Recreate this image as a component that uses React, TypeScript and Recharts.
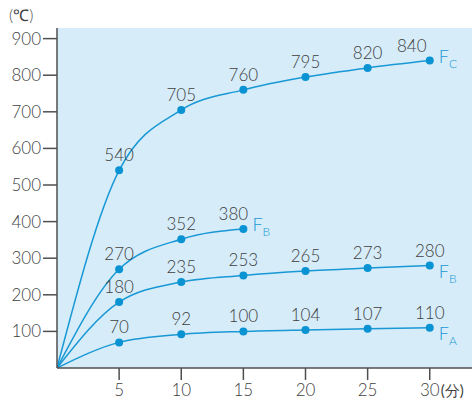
import { LineChart, Line, XAxis, YAxis, CartesianGrid, LabelList } from 'recharts';

const minutes = [0, 5, 10, 15, 20, 25, 30];
const fC = [0, 540, 705, 760, 795, 820, 840];
const fBHigh = [0, 270, 352, 380, null, null, null];
const fBLow = [0, 180, 235, 253, 265, 273, 280];
const fA = [0, 70, 92, 100, 104, 107, 110];

const xTicks = [5, 10, 15, 20, 25, 30];
const yTicks = [100, 200, 300, 400, 500, 600, 700, 800, 900];
const xUnit = '(分)';
const yUnit = '(℃)';

const data = minutes.map((m, i) => ({
  m,
  fC: fC[i],
  fBHigh: fBHigh[i],
  fBLow: fBLow[i],
  fA: fA[i],
}));

const LINE = '#1898d5';
const DOT = '#0a93d3';
const TEXT = '#3f3f3f';
const AXIS = '#4f4f4f';
const FONT = 'Lato, "Open Sans", sans-serif';
const WEIGHT = 300;

const dot = (props: any) => {
  const { cx, cy, index, value } = props;
  if (index === 0 || value == null || cx == null) return <g key={`d${index}`} />;
  return <circle key={`d${index}`} cx={cx} cy={cy} r={4} fill={DOT} />;
};

function makeLabel(name: string, sub: string, last: number, valueDx: number, nameDy: number) {
  return (props: any) => {
    const { x, y, value, index } = props;
    if (index === 0 || value == null) return null;
    const isLast = index === last;
    return (
      <g>
        <text
          x={x + (isLast ? valueDx : 0)}
          y={y - 9}
          textAnchor="middle"
          fontSize={17}
          fontWeight={WEIGHT}
          fill={TEXT}
          fontFamily={FONT}
        >
          {value}
        </text>
        {isLast && (
          <text x={x + 9} y={y + nameDy} fontSize={18} fontWeight={WEIGHT} fill={LINE} fontFamily={FONT}>
            {name}
            <tspan fontSize={12} dy={5}>
              {sub}
            </tspan>
          </text>
        )}
      </g>
    );
  };
}

const XTick = (props: any) => {
  const { x, y, payload } = props;
  const isLast = payload.value === xTicks[xTicks.length - 1];
  return (
    <g>
      <text x={x} y={y} dy={12} textAnchor="middle" fontSize={17} fontWeight={WEIGHT} fill={TEXT} fontFamily={FONT}>
        {payload.value}
      </text>
      {isLast && (
        <text x={x + 11} y={y} dy={12} textAnchor="start" fontSize={15} fill={TEXT} fontFamily={FONT}>
          {xUnit}
        </text>
      )}
    </g>
  );
};

export default function App() {
  return (
    <div style={{ position: 'absolute', left: 0, top: 0, width: 472, height: 399, background: '#fff' }}>
      <div
        style={{
          position: 'absolute',
          left: 9,
          top: 6,
          fontSize: 16,
          lineHeight: '18px',
          color: TEXT,
          fontFamily: FONT,
          fontWeight: WEIGHT,
        }}
      >
        {yUnit}
      </div>
      <LineChart width={472} height={399} data={data} margin={{ top: 28, right: 0, bottom: 0, left: 0 }}>
        <CartesianGrid fill="#d6ecf9" stroke="none" horizontal={false} vertical={false} />
        <XAxis
          dataKey="m"
          type="number"
          domain={[0, 33.4]}
          ticks={xTicks}
          allowDataOverflow
          height={31}
          tickSize={12}
          tickMargin={4}
          axisLine={{ stroke: AXIS, strokeWidth: 1.5 }}
          tickLine={{ stroke: AXIS, strokeWidth: 1.5 }}
          tick={<XTick />}
        />
        <YAxis
          type="number"
          domain={[0, 929]}
          ticks={yTicks}
          allowDataOverflow
          width={57}
          tickSize={14}
          tickMargin={2}
          axisLine={{ stroke: AXIS, strokeWidth: 1.5 }}
          tickLine={{ stroke: AXIS, strokeWidth: 1.5 }}
          tick={{ fontSize: 17, fill: TEXT, fontFamily: FONT, fontWeight: WEIGHT }}
        />
        <Line type="monotone" dataKey="fC" stroke={LINE} strokeWidth={1.5} dot={dot} activeDot={false} isAnimationActive={false}>
          <LabelList dataKey="fC" content={makeLabel('F', 'C', 6, -18, 2)} />
        </Line>
        <Line type="monotone" dataKey="fBHigh" stroke={LINE} strokeWidth={1.5} dot={dot} activeDot={false} isAnimationActive={false}>
          <LabelList dataKey="fBHigh" content={makeLabel('F', 'B', 3, -10, 2)} />
        </Line>
        <Line type="monotone" dataKey="fBLow" stroke={LINE} strokeWidth={1.5} dot={dot} activeDot={false} isAnimationActive={false}>
          <LabelList dataKey="fBLow" content={makeLabel('F', 'B', 6, 0, 12)} />
        </Line>
        <Line type="monotone" dataKey="fA" stroke={LINE} strokeWidth={1.5} dot={dot} activeDot={false} isAnimationActive={false}>
          <LabelList dataKey="fA" content={makeLabel('F', 'A', 6, 0, 12)} />
        </Line>
      </LineChart>
    </div>
  );
}
